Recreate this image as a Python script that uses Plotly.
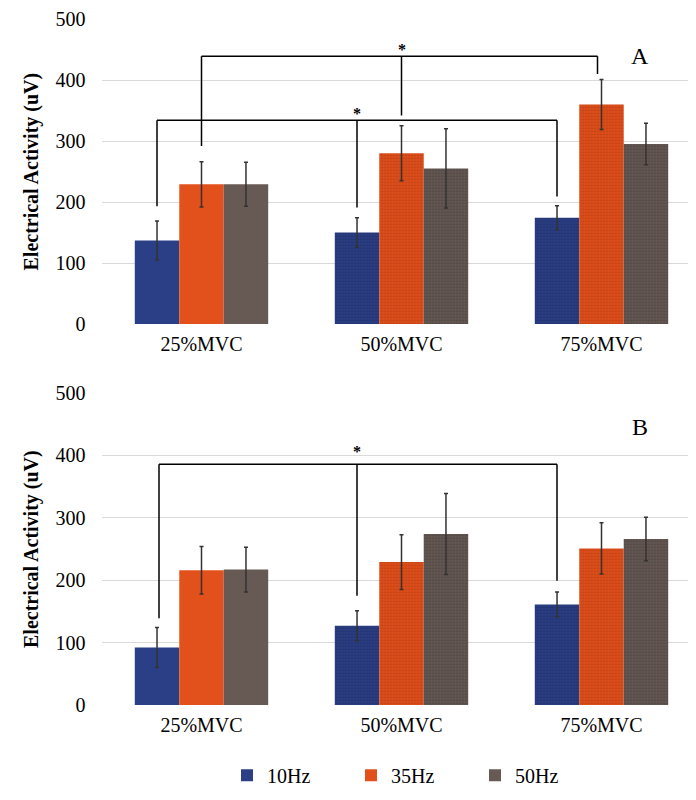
import plotly.graph_objects as go
from plotly.subplots import make_subplots

categories = ['25%MVC', '50%MVC', '75%MVC']
series = ['10Hz', '35Hz', '50Hz']
colors = ['#2B3F86', '#E2501C', '#675A55']
dot_colors = ['#1a2858', '#a3330c', '#403633']

# panel A
a_vals = [[137, 150, 174], [229, 280, 360], [229, 255, 295]]
a_err = [[32, 24, 20], [37, 45, 41], [36, 65, 34]]
# panel B
b_vals = [[92, 127, 161], [216, 229, 251], [217, 274, 266]]
b_err = [[32, 24, 20], [38, 44, 41], [36, 65, 35]]

# significance brackets: (x positions of legs, leg bottoms, bar height, star x, star y)
bw = 0.2225
a_brackets = [
    ([0, 1, 2 - 0.02], [292, 342, 410], 439, 1, 450),
    ([-bw, 1 - bw, 2 - bw], [193, 191, 209], 334, 1 - bw, 345),
]
b_brackets = [
    ([-bw + 0.01, 1 - bw, 2 - bw], [139, 175, 199], 386, 1 - bw, 406),
]

FONT = 'Liberation Serif, Times New Roman, serif'

# page has an 8px body margin, so figure coords = page coords - 8
top_dom = [0.605, 0.98625]
bot_dom = [0.12875, 0.51875]

fig = make_subplots(rows=2, cols=1)

for row, vals, errs in [(1, a_vals, a_err), (2, b_vals, b_err)]:
    for i, name in enumerate(series):
        fig.add_trace(go.Bar(
            x=categories, y=vals[i], name=name,
            marker=dict(color=colors[i], line=dict(width=0),
                        pattern=dict(shape=['', '.', '.'], size=3, solidity=0.45,
                                     fgcolor=dot_colors[i], fillmode='overlay')),
            error_y=dict(type='data', array=errs[i], color='#333333', thickness=1.5, width=2),
            showlegend=(row == 1),
        ), row=row, col=1)

for row, brackets in [(1, a_brackets), (2, b_brackets)]:
    xref = 'x' if row == 1 else 'x2'
    yref = 'y' if row == 1 else 'y2'
    for legs, bottoms, top, sx, sy in brackets:
        fig.add_shape(type='line', x0=legs[0], x1=legs[-1], y0=top, y1=top,
                      xref=xref, yref=yref, line=dict(color='black', width=1.5))
        for lx, lb in zip(legs, bottoms):
            fig.add_shape(type='line', x0=lx, x1=lx, y0=lb, y1=top,
                          xref=xref, yref=yref, line=dict(color='black', width=1.5))
        fig.add_annotation(x=sx, y=sy, xref=xref, yref=yref, text='<b>*</b>', showarrow=False,
                           font=dict(family=FONT, size=16, color='black'))

fig.add_annotation(x=2.19, y=439, xref='x', yref='y', text='A', showarrow=False,
                   font=dict(family=FONT, size=24, color='black'))
fig.add_annotation(x=2.19, y=445, xref='x2', yref='y2', text='B', showarrow=False,
                   font=dict(family=FONT, size=24, color='black'))

# y axis titles
for dom in [top_dom, bot_dom]:
    fig.add_annotation(x=23 / 696, y=sum(dom) / 2, xref='paper', yref='paper', xanchor='center', yanchor='middle',
                       text='<b>Electrical Activity (uV)</b>',
                       textangle=-90, showarrow=False, font=dict(family=FONT, size=20, color='black'))

fig.update_xaxes(domain=[93.5 / 696, 1], range=[-0.5, 2.5125], showgrid=False, showline=False, ticks='',
                 automargin=False, ticklabelstandoff=6, tickfont=dict(family=FONT, size=20, color='black'))
fig.update_yaxes(range=[0, 500], dtick=100, showgrid=True, gridcolor='#d9d9d9', gridwidth=1.2,
                 zeroline=False, showline=False, ticks='', ticklabelstandoff=15, automargin=False,
                 ticklabeloverflow='allow', tickfont=dict(family=FONT, size=20, color='black'))
fig.update_yaxes(domain=top_dom, row=1, col=1)
fig.update_yaxes(domain=bot_dom, row=2, col=1)

fig.update_layout(
    width=696, height=800,
    margin=dict(l=0, r=0, t=0, b=0),
    paper_bgcolor='white', plot_bgcolor='white',
    barmode='group', bargap=0.333, bargroupgap=0,
    font=dict(family=FONT, color='black'),
    legend=dict(orientation='h', x=219 / 696, y=0.041, xanchor='left', yanchor='middle',
                font=dict(family=FONT, size=20, color='black'),
                entrywidth=79, itemwidth=30),
)

fig.write_html("out.html")
